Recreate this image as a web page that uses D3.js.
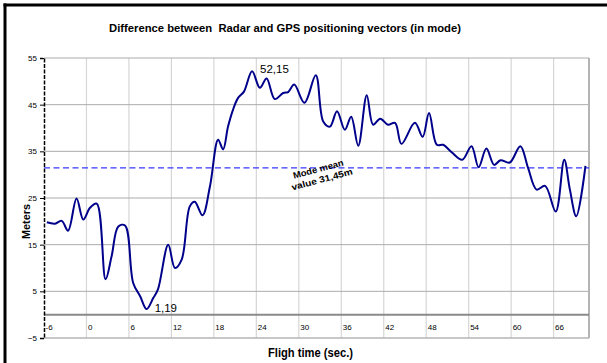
<!DOCTYPE html>
<html lang="en">
<head>
<meta charset="utf-8">
<title>Radar vs GPS difference</title>
<script src="https://d3js.org/d3.v7.min.js"></script>
<style>
  body { margin: 0; background: #fff; }
  text { font-family: Arial, "Liberation Sans", sans-serif; }
</style>
</head>
<body>
<div id="chart"></div>
<script>
// flight time (sec.) and difference in meters
var flightTime = [-5.6, -4.45, -3.5, -2.6, -1.4, -0.45, 0.5, 1.45, 2.7, 3.55, 4.5, 5.45,
  6.6, 7.6, 8.5, 9.45, 10.1, 11.55, 12.5, 13.45, 14.6, 15.3, 16.4, 17.45, 18.6, 19.3,
  20.0, 20.7, 21.4, 22.25, 23.4, 24.5, 25.45, 26.6, 27.8, 28.5, 29.35, 30.8, 32.4,
  33.45, 34.4, 35.4, 36.5, 37.4, 38.4, 39.6, 40.5, 41.5, 42.6, 43.6, 44.5, 46.4,
  47.5, 48.4, 49.5, 50.4, 51.6, 53.1, 54.4, 55.4, 56.5, 57.6, 58.5, 59.8, 61.3,
  62.4, 63.6, 64.8, 66.3, 67.5, 68.3, 69.2, 70.5];
var meters = [19.8, 19.5, 20.1, 18.0, 24.9, 20.4, 22.9, 23.8, 7.6, 12.5, 18.9, 19.1,
  6.8, 3.9, 1.19, 3.6, 5.4, 15.0, 10.0, 11.8, 23.2, 24.2, 21.3, 27.5, 37.5, 35.4,
  40.3, 43.9, 46.4, 47.8, 52.15, 48.6, 50.6, 46.2, 47.5, 47.7, 49.3, 45.4, 51.3,
  41.4, 40.3, 43.6, 39.6, 42.4, 36.2, 47.0, 40.7, 42.0, 40.7, 41.1, 36.6, 41.1,
  38.1, 43.2, 36.4, 36.4, 34.8, 33.2, 36.1, 31.6, 35.6, 32.1, 33.1, 32.6, 36.1,
  31.4, 26.8, 27.6, 22.1, 33.2, 26.8, 21.1, 31.9];
var xTicks = [-6, 0, 6, 12, 18, 24, 30, 36, 42, 48, 54, 60, 66];
var yTicks = [-5, 5, 15, 25, 35, 45, 55];
var modeMean = 31.45;
var peakLabels = [{t: 23.4, v: 52.15, text: "52,15"}, {t: 8.5, v: 1.19, text: "1,19"}];

var w = 607, h = 363;
var data = flightTime.map(function(t, i) { return {t: t, v: meters[i]}; });

var x = d3.scaleLinear().domain([-6, 71]).range([44, 589]);
var y = d3.scaleLinear().domain([-5, 55]).range([338, 58]);

var svg = d3.select("#chart").append("svg")
  .attr("width", w).attr("height", h);

svg.append("rect").attr("width", w).attr("height", h).attr("fill", "#fff");

// outer frame (only left and top visible)
svg.append("line").attr("x1", 5).attr("x2", 5).attr("y1", 3.5).attr("y2", h)
  .attr("stroke", "#000").attr("stroke-width", 3);
svg.append("line").attr("x1", 3.5).attr("x2", w).attr("y1", 5).attr("y2", 5)
  .attr("stroke", "#000").attr("stroke-width", 3);

// gridlines
svg.selectAll(".vgrid").data(xTicks.slice(1)).enter().append("line")
  .attr("x1", function(d) { return x(d); }).attr("x2", function(d) { return x(d); })
  .attr("y1", y(55)).attr("y2", y(-5))
  .attr("stroke", "#d6d6d6").attr("stroke-width", 1.2);
svg.selectAll(".hgrid").data(yTicks).enter().append("line")
  .attr("x1", x(-6)).attr("x2", x(71))
  .attr("y1", function(d) { return y(d); }).attr("y2", function(d) { return y(d); })
  .attr("stroke", function(d) { return d == -5 ? "#b4b4b4" : "#ababab"; })
  .attr("stroke-width", function(d) { return d == -5 ? 1.5 : 1; });

// right border of plot
svg.append("line").attr("x1", x(71)).attr("x2", x(71)).attr("y1", y(55)).attr("y2", y(-5))
  .attr("stroke", "#b4b4b4").attr("stroke-width", 2);

// zero line
svg.append("line").attr("x1", x(-6)).attr("x2", x(71)).attr("y1", y(0)).attr("y2", y(0))
  .attr("stroke", "#8a8a8a").attr("stroke-width", 2);

// y axis
var yAxis = d3.axisLeft(y).tickValues(yTicks).tickSize(4).tickPadding(3);
var gy = svg.append("g").attr("transform", "translate(" + x(-6) + ",0)").call(yAxis);
gy.select(".domain").attr("stroke", "#000").attr("stroke-width", 1.5)
  .attr("stroke-dasharray", "4,1.5");
gy.selectAll(".tick line").attr("stroke", "#000");
gy.selectAll(".tick text").attr("font-size", 8).attr("fill", "#000")
  .style("font-family", "Arial, 'Liberation Sans', sans-serif");

// x tick labels, left aligned at the grid line
svg.selectAll(".xlab").data(xTicks).enter().append("text")
  .attr("x", function(d) { return x(d) + 1.5; })
  .attr("y", 330)
  .attr("font-size", 8)
  .text(function(d) { return d; });

// mode mean line
svg.append("line").attr("x1", x(-6)).attr("x2", x(71))
  .attr("y1", y(modeMean)).attr("y2", y(modeMean))
  .attr("stroke", "#3838ff").attr("stroke-width", 1.4).attr("stroke-dasharray", "6,3.5");

// series
var line = d3.line()
  .x(function(d) { return x(d.t); })
  .y(function(d) { return y(d.v); })
  .curve(d3.curveCatmullRom.alpha(0.5));
svg.append("path").datum(data).attr("d", line)
  .attr("fill", "none").attr("stroke", "#00008b").attr("stroke-width", 2);

// annotations
svg.selectAll(".peak").data(peakLabels).enter().append("text")
  .attr("x", function(d) { return x(d.t) + 8; })
  .attr("y", function(d) { return d.v > 40 ? y(d.v) + 2 : y(d.v) + 3; })
  .attr("font-size", 11.5)
  .text(function(d) { return d.text; });

var mm = svg.append("g").attr("transform", "translate(319,172) rotate(-15)");
mm.append("text").attr("x", 0).attr("y", 0).attr("text-anchor", "middle")
  .attr("font-size", 9).attr("font-weight", "bold")
  .attr("textLength", 52).attr("lengthAdjust", "spacingAndGlyphs")
  .text("Mode mean");
mm.append("text").attr("x", 1).attr("y", 11).attr("text-anchor", "middle")
  .attr("font-size", 9).attr("font-weight", "bold")
  .attr("textLength", 63).attr("lengthAdjust", "spacingAndGlyphs")
  .text("value 31,45m");

// titles
svg.append("text").attr("x", 109).attr("y", 31.5)
  .attr("font-size", 11.5).attr("font-weight", "bold")
  .attr("textLength", 352).attr("lengthAdjust", "spacingAndGlyphs")
  .style("white-space", "pre")
  .text("Difference between  Radar and GPS positioning vectors (in mode)");
svg.append("text").attr("x", 268).attr("y", 356.5)
  .attr("font-size", 12).attr("font-weight", "bold")
  .attr("textLength", 85).attr("lengthAdjust", "spacingAndGlyphs")
  .text("Fligh time (sec.)");
svg.append("text").attr("transform", "translate(29.5,239) rotate(-90)")
  .attr("font-size", 11).attr("font-weight", "bold")
  .attr("textLength", 35).attr("lengthAdjust", "spacingAndGlyphs")
  .text("Meters");
</script>
</body>
</html>
